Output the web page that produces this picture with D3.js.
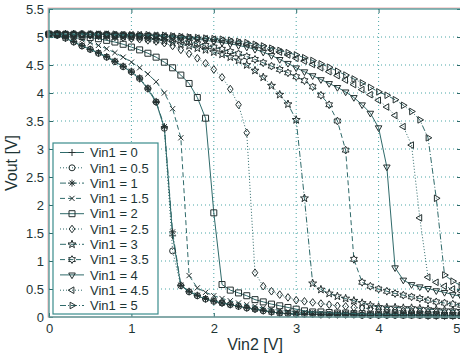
<!DOCTYPE html>
<html>
<head>
<meta charset="utf-8">
<script src="https://cdn.jsdelivr.net/npm/d3@7"></script>
<style>
  body { margin: 0; background: #fff; }
  svg { display: block; font-family: "Liberation Sans", Arial, sans-serif; }
</style>
</head>
<body>
<div id="chart"></div>
<script>
// x values (Vin2)
var vin2 = [0, 0.1, 0.2, 0.3, 0.4, 0.5, 0.6, 0.7, 0.8, 0.9,
  1, 1.1, 1.2, 1.3, 1.4, 1.5, 1.6, 1.7, 1.8, 1.9,
  2, 2.1, 2.2, 2.3, 2.4, 2.5, 2.6, 2.7, 2.8, 2.9,
  3, 3.1, 3.2, 3.3, 3.4, 3.5, 3.6, 3.7, 3.8, 3.9,
  4, 4.1, 4.2, 4.3, 4.4, 4.5, 4.6, 4.7, 4.8, 4.9, 5];

var vin1Labels = ["0", "0.5", "1", "1.5", "2", "2.5", "3", "3.5", "4", "4.5", "5"];

// Vout for each Vin1
var vout0 = [5.05, 5.03, 4.98, 4.91, 4.84, 4.78, 4.71, 4.64, 4.56, 4.47,
  4.37, 4.25, 4.07, 3.83, 3.38, 1.45, 0.56, 0.45, 0.38, 0.32,
  0.28, 0.25, 0.22, 0.19, 0.16, 0.14, 0.11, 0.09, 0.07, 0.06,
  0.05, 0.05, 0.05, 0.04, 0.04, 0.04, 0.04, 0.04, 0.03, 0.03,
  0.03, 0.03, 0.03, 0.03, 0.03, 0.03, 0.02, 0.02, 0.02, 0.02, 0.02];
var vout05 = [5.05, 5.03, 4.98, 4.91, 4.84, 4.78, 4.71, 4.64, 4.56, 4.47,
  4.38, 4.26, 4.08, 3.84, 3.37, 1.18, 0.56, 0.45, 0.38, 0.32,
  0.28, 0.25, 0.22, 0.19, 0.16, 0.14, 0.11, 0.09, 0.07, 0.06,
  0.05, 0.05, 0.05, 0.04, 0.04, 0.04, 0.04, 0.04, 0.03, 0.03,
  0.03, 0.03, 0.03, 0.03, 0.03, 0.03, 0.02, 0.02, 0.02, 0.02, 0.02];
var vout1 = [5.05, 5.03, 4.98, 4.92, 4.85, 4.78, 4.72, 4.65, 4.57, 4.48,
  4.39, 4.27, 4.09, 3.85, 3.40, 1.52, 0.57, 0.46, 0.39, 0.33,
  0.29, 0.25, 0.22, 0.19, 0.17, 0.14, 0.12, 0.09, 0.07, 0.06,
  0.05, 0.05, 0.05, 0.04, 0.04, 0.04, 0.04, 0.04, 0.03, 0.03,
  0.03, 0.03, 0.03, 0.03, 0.03, 0.03, 0.02, 0.02, 0.02, 0.02, 0.02];
var vout15 = [5.05, 5.04, 5.02, 4.99, 4.95, 4.9, 4.85, 4.79, 4.72, 4.64,
  4.55, 4.45, 4.34, 4.2, 4.0, 3.72, 3.2, 0.74, 0.52, 0.44,
  0.38, 0.33, 0.29, 0.25, 0.22, 0.19, 0.16, 0.14, 0.12, 0.1,
  0.09, 0.08, 0.08, 0.07, 0.07, 0.06, 0.06, 0.06, 0.05, 0.05,
  0.05, 0.05, 0.04, 0.04, 0.04, 0.04, 0.04, 0.03, 0.03, 0.03, 0.03];
var vout2 = [5.05, 5.05, 5.04, 5.03, 5.01, 4.99, 4.97, 4.94, 4.91, 4.87,
  4.82, 4.77, 4.71, 4.64, 4.55, 4.45, 4.32, 4.17, 3.92, 3.55,
  1.86, 0.58, 0.48, 0.43, 0.38, 0.31, 0.27, 0.23, 0.2, 0.17,
  0.14, 0.11, 0.09, 0.09, 0.08, 0.07, 0.07, 0.06, 0.06, 0.05,
  0.05, 0.05, 0.05, 0.04, 0.04, 0.04, 0.04, 0.04, 0.03, 0.03, 0.03];
var vout25 = [5.05, 5.05, 5.05, 5.04, 5.04, 5.03, 5.02, 5.01, 5.0, 4.99,
  4.97, 4.96, 4.94, 4.92, 4.89, 4.84, 4.77, 4.7, 4.62, 4.53,
  4.42, 4.28, 4.07, 3.79, 3.29, 0.79, 0.55, 0.46, 0.4, 0.35,
  0.3, 0.28, 0.26, 0.24, 0.22, 0.2, 0.19, 0.17, 0.16, 0.15,
  0.14, 0.13, 0.12, 0.11, 0.1, 0.1, 0.09, 0.09, 0.08, 0.08, 0.07];
var vout3 = [5.05, 5.05, 5.05, 5.05, 5.04, 5.04, 5.03, 5.03, 5.02, 5.01,
  5.0, 4.99, 4.97, 4.95, 4.93, 4.9, 4.87, 4.84, 4.8, 4.77,
  4.73, 4.69, 4.64, 4.58, 4.5, 4.4, 4.28, 4.13, 3.97, 3.8,
  3.52, 2.12, 0.6, 0.49, 0.42, 0.37, 0.33, 0.29, 0.25, 0.21,
  0.18, 0.17, 0.17, 0.16, 0.16, 0.15, 0.14, 0.13, 0.12, 0.12, 0.11];
var vout35 = [5.05, 5.05, 5.05, 5.05, 5.05, 5.04, 5.04, 5.04, 5.03, 5.03,
  5.02, 5.01, 5.0, 4.99, 4.97, 4.96, 4.94, 4.91, 4.88, 4.85,
  4.82, 4.78, 4.74, 4.7, 4.65, 4.6, 4.54, 4.48, 4.42, 4.36,
  4.29, 4.22, 4.11, 3.96, 3.79, 3.5, 2.98, 1.03, 0.62, 0.55,
  0.5, 0.46, 0.42, 0.39, 0.36, 0.33, 0.3, 0.27, 0.25, 0.23, 0.21];
var vout4 = [5.05, 5.05, 5.05, 5.05, 5.05, 5.05, 5.05, 5.04, 5.04, 5.04,
  5.04, 5.03, 5.03, 5.02, 5.01, 5.0, 4.99, 4.97, 4.96, 4.94,
  4.92, 4.9, 4.88, 4.85, 4.82, 4.78, 4.73, 4.67, 4.6, 4.53,
  4.45, 4.38, 4.31, 4.24, 4.17, 4.1, 4.02, 3.92, 3.79, 3.64,
  3.38, 2.68, 0.88, 0.66, 0.58, 0.54, 0.51, 0.47, 0.44, 0.4, 0.37];
var vout45 = [5.05, 5.05, 5.05, 5.05, 5.05, 5.05, 5.05, 5.05, 5.04, 5.04,
  5.04, 5.04, 5.03, 5.03, 5.02, 5.01, 5.0, 4.99, 4.98, 4.97,
  4.96, 4.94, 4.92, 4.9, 4.87, 4.84, 4.81, 4.77, 4.73, 4.68,
  4.62, 4.57, 4.51, 4.45, 4.38, 4.31, 4.23, 4.15, 4.06, 3.97,
  3.87, 3.75, 3.6, 3.4, 3.07, 1.77, 0.71, 0.62, 0.55, 0.5, 0.46];
var vout5 = [5.05, 5.05, 5.05, 5.05, 5.05, 5.05, 5.05, 5.05, 5.05, 5.04,
  5.04, 5.04, 5.04, 5.03, 5.03, 5.02, 5.01, 5.0, 4.99, 4.98,
  4.97, 4.96, 4.94, 4.92, 4.9, 4.87, 4.84, 4.8, 4.76, 4.72,
  4.68, 4.63, 4.58, 4.52, 4.46, 4.39, 4.32, 4.25, 4.18, 4.1,
  4.02, 3.96, 3.88, 3.78, 3.67, 3.52, 3.2, 2.12, 0.75, 0.64, 0.56];

var xTicks = [0, 1, 2, 3, 4, 5];
var yTicks = [0, 0.5, 1, 1.5, 2, 2.5, 3, 3.5, 4, 4.5, 5, 5.5];

var allVout = [vout0, vout05, vout1, vout15, vout2, vout25, vout3, vout35, vout4, vout45, vout5];
var markerTypes = ["plus", "circle", "asterisk", "cross", "square", "diamond",
  "pentagram", "hexagram", "triDown", "triLeft", "triRight"];
// matlab style cycle: - : -. --
var dashes = [null, "1,2", "6,2,1,2", "5,3"];

var W = 460, H = 358;
var margin = { left: 49, top: 9, right: -1, bottom: 41 };
var pw = W - margin.left - margin.right, ph = H - margin.top - margin.bottom;

var lineCol = "#2f6a6a", markCol = "#243030", gridCol = "#4aa6a6", textCol = "#1d3434";

var x = d3.scaleLinear().domain([0, 5]).range([0, pw]);
var y = d3.scaleLinear().domain([0, 5.5]).range([ph, 0]);

var svg = d3.select("#chart").append("svg")
  .attr("width", W).attr("height", H);

svg.append("defs").append("clipPath").attr("id", "clip")
  .append("rect").attr("width", pw).attr("height", ph);

var g = svg.append("g")
  .attr("transform", "translate(" + margin.left + "," + margin.top + ")");

// grid
g.append("g").selectAll("line").data(xTicks.slice(1))
  .enter().append("line")
  .attr("x1", function (d) { return x(d); }).attr("x2", function (d) { return x(d); })
  .attr("y1", 0).attr("y2", ph)
  .attr("stroke", gridCol).attr("stroke-dasharray", "1,3");
g.append("g").selectAll("line").data(yTicks.slice(1, -1))
  .enter().append("line")
  .attr("y1", function (d) { return y(d); }).attr("y2", function (d) { return y(d); })
  .attr("x1", 0).attr("x2", pw)
  .attr("stroke", gridCol).attr("stroke-dasharray", "1,3");

// marker shapes
function star(n, ro, ri) {
  var p = [];
  for (var i = 0; i < 2 * n; i++) {
    var r = i % 2 ? ri : ro, a = -Math.PI / 2 + i * Math.PI / n;
    p.push([r * Math.cos(a), r * Math.sin(a)]);
  }
  return "M" + p.join("L") + "Z";
}
function tri(rot) {
  var p = [];
  for (var i = 0; i < 3; i++) {
    var a = rot + i * 2 * Math.PI / 3;
    p.push([3.8 * Math.cos(a), 3.8 * Math.sin(a)]);
  }
  return "M" + p.join("L") + "Z";
}
var shapes = {
  plus: "M-3.5,0H3.5M0,-3.5V3.5",
  circle: "M3,0A3,3 0 1,1 -3,0A3,3 0 1,1 3,0Z",
  asterisk: "M-3.5,0H3.5M0,-3.5V3.5M-2.5,-2.5L2.5,2.5M-2.5,2.5L2.5,-2.5",
  cross: "M-2.6,-2.6L2.6,2.6M-2.6,2.6L2.6,-2.6",
  square: "M-3,-3H3V3H-3Z",
  diamond: "M0,-3.8L2.8,0L0,3.8L-2.8,0Z",
  pentagram: star(5, 4.2, 1.7),
  hexagram: star(6, 3.9, 2.2),
  triDown: tri(Math.PI / 2),
  triLeft: tri(Math.PI),
  triRight: tri(0)
};

var line = d3.line()
  .x(function (d) { return x(d[0]); })
  .y(function (d) { return y(d[1]); });

var plot = g.append("g");
allVout.forEach(function (vals, i) {
  var pts = vin2.map(function (v, j) { return [v, vals[j]]; });
  plot.append("path")
    .datum(pts)
    .attr("clip-path", "url(#clip)")
    .attr("d", line)
    .attr("fill", "none")
    .attr("stroke", lineCol)
    .attr("stroke-width", 1)
    .attr("stroke-dasharray", dashes[i % 4]);
  plot.append("g").selectAll("path")
    .data(pts).enter().append("path")
    .attr("transform", function (d) { return "translate(" + x(d[0]) + "," + y(d[1]) + ")"; })
    .attr("d", shapes[markerTypes[i]])
    .attr("fill", "none")
    .attr("stroke", markCol)
    .attr("stroke-width", 1);
});

// axes
var ax = g.append("g")
  .attr("transform", "translate(0," + ph + ")")
  .call(d3.axisBottom(x).tickValues(xTicks).tickSize(-4).tickPadding(7).tickFormat(d3.format("")));
var ay = g.append("g")
  .call(d3.axisLeft(y).tickValues(yTicks).tickSize(-4).tickPadding(5).tickFormat(d3.format("")));
g.append("g").call(d3.axisTop(x).tickValues(xTicks).tickSize(-4).tickFormat(""));
g.append("g").attr("transform", "translate(" + pw + ",0)")
  .call(d3.axisRight(y).tickValues(yTicks).tickSize(-4).tickFormat(""));
g.selectAll(".domain").remove();
g.selectAll(".tick line").attr("stroke", lineCol);
g.selectAll(".tick text").attr("fill", textCol).style("font-size", "13px")
  .style("font-family", "'Liberation Sans', Arial, sans-serif");
// last x label sits on the window edge: keep it inside
ax.selectAll(".tick text").filter(function (d) { return d === 5; })
  .attr("text-anchor", "end").attr("dx", "-1");

// box (with a faint red fringe like the scan)
g.append("rect").attr("x", -1).attr("y", -1).attr("width", pw + 1).attr("height", ph + 1)
  .attr("fill", "none").attr("stroke", "#f2b0b0").attr("stroke-width", 1);
g.append("rect").attr("width", pw).attr("height", ph)
  .attr("fill", "none").attr("stroke", "#3a8c8c").attr("stroke-width", 1.2);

// legend
var leg = g.append("g").attr("transform", "translate(4,134)");
leg.append("rect").attr("width", 105).attr("height", 171)
  .attr("fill", "#fff").attr("stroke", "#3a8c8c").attr("stroke-width", 1.2);
vin1Labels.forEach(function (lab, i) {
  var cy = 9.5 + i * 15.3;
  leg.append("line").attr("x1", 7).attr("x2", 31).attr("y1", cy).attr("y2", cy)
    .attr("stroke", lineCol).attr("stroke-dasharray", dashes[i % 4]);
  leg.append("path").attr("d", shapes[markerTypes[i]])
    .attr("transform", "translate(19," + cy + ")")
    .attr("fill", "none").attr("stroke", markCol).attr("stroke-width", 1);
  leg.append("text").attr("x", 37).attr("y", cy + 4.7)
    .attr("fill", textCol).style("font-size", "13px")
    .text("Vin1 = " + lab);
});

// axis labels
svg.append("text").attr("x", margin.left + x(2.5)).attr("y", 350)
  .attr("text-anchor", "middle").attr("fill", textCol).style("font-size", "16px")
  .text("Vin2 [V]");
svg.append("text").attr("transform", "translate(17," + (margin.top + ph / 2) + ") rotate(-90)")
  .attr("text-anchor", "middle").attr("fill", textCol).style("font-size", "16px")
  .text("Vout [V]");
</script>
</body>
</html>
